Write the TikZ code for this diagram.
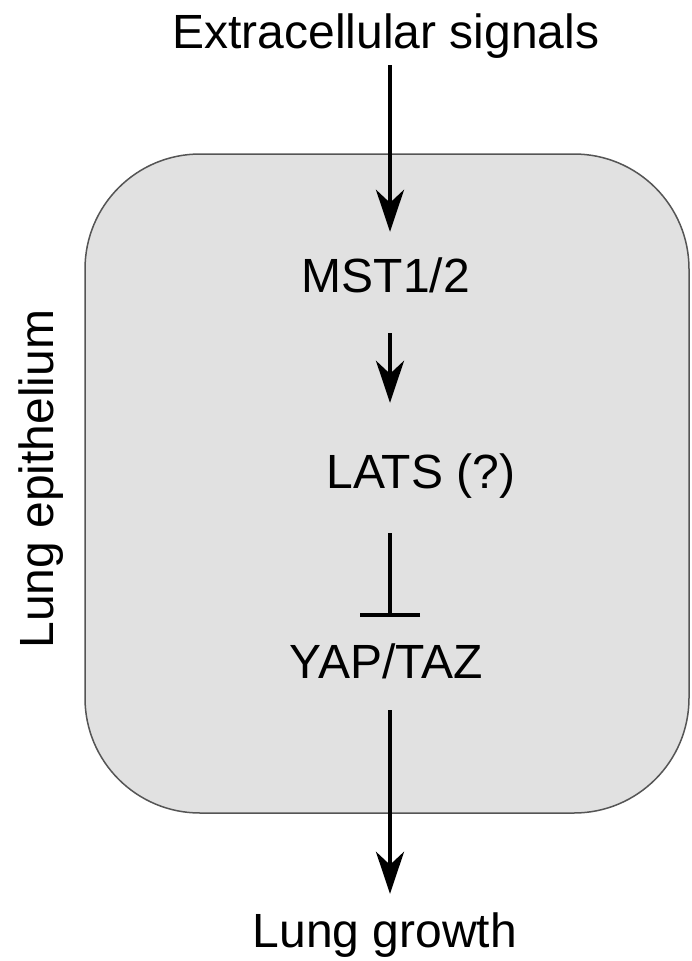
\documentclass[tikz,border=0pt]{standalone}
\usepackage{fontspec}
\setmainfont{Liberation Sans}
\usetikzlibrary{arrows.meta}
\usetikzlibrary{positioning}

\definecolor{cellgray}{RGB}{225,225,225}
\definecolor{edgegray}{RGB}{85,85,85}

\tikzset{
  lbl/.style={inner sep=0, text height=35pt, text depth=10pt,
              font=\fontsize{48}{58}\selectfont},
  act/.style={line width=4.5pt, -{Stealth[length=42pt, width=28pt, inset=13pt]}},
  inh/.style={line width=4.5pt, -{Bar[width=60pt, line width=4pt]}}
}

\begin{document}
\begin{tikzpicture}[x=1pt, y=-1pt]

\useasboundingbox (0,0) rectangle (691,961);

% cell (lung epithelium)
\draw[fill=cellgray, draw=edgegray, line width=1.5pt, rounded corners=115pt]
  (85,154) rectangle (689,813);

\node[lbl, anchor=base] (sig) at (386,48) {Extracellular signals};
\node[lbl, anchor=base] (mst) at (386,292) {MST1/2};
\node[lbl, anchor=base] (lats) at (421,488) {LATS (?)};
\node[lbl, anchor=base] (yap) at (386,678) {YAP/TAZ};
\node[lbl, anchor=base] (grow) at (385,947) {Lung growth};

\node[lbl, anchor=base, rotate=90] (epi) at (53,479) {Lung epithelium};

\draw[act, shorten <=7pt, shorten >=25pt]
  ([xshift=4pt]sig.south) -- ([xshift=4pt]sig.south |- mst.north);
\draw[act, shorten <=31pt, shorten >=50pt]
  ([xshift=4pt]mst.south) -- ([xshift=4pt]mst.south |- lats.north);
\draw[inh, shorten <=35pt, shorten >=26pt]
  ([xshift=4pt]mst.south |- lats.south) -- ([xshift=4pt]yap.north);
\draw[act, shorten <=22pt, shorten >=18pt]
  ([xshift=4pt]yap.south) -- ([xshift=4pt]yap.south |- grow.north);

\end{tikzpicture}
\end{document}
